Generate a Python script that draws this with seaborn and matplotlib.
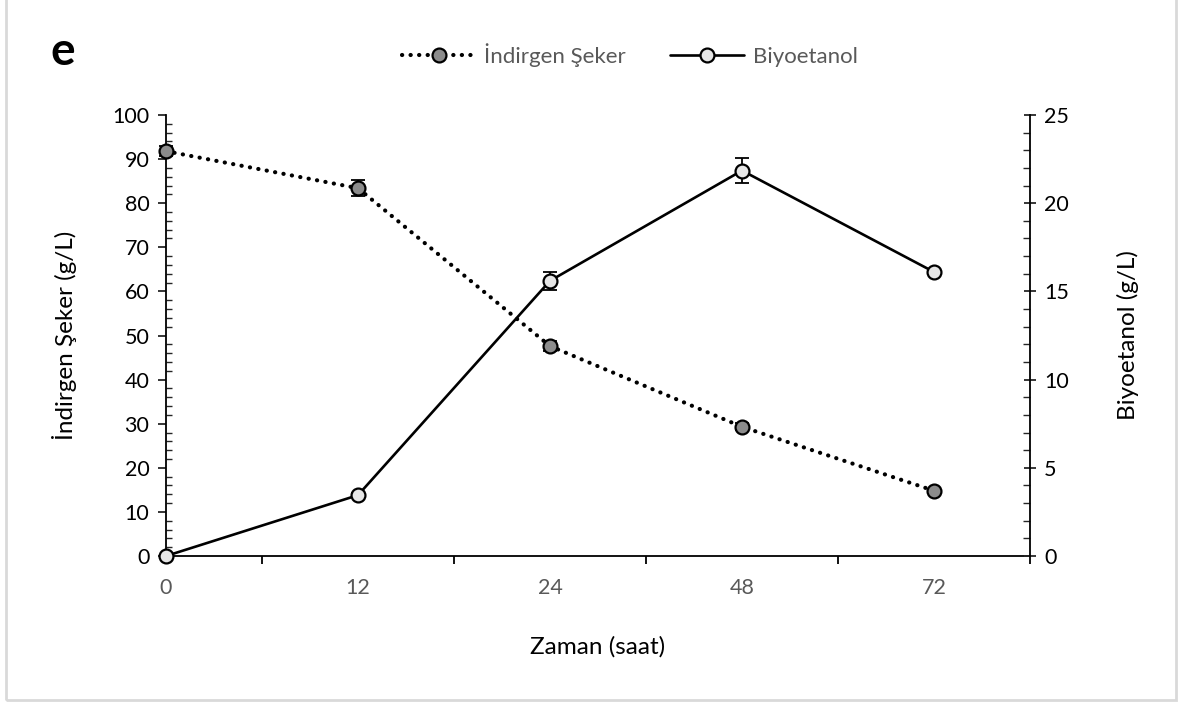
import numpy as np
import pandas as pd
import matplotlib
matplotlib.use("Agg")
import matplotlib.pyplot as plt
from matplotlib.patches import Rectangle
from matplotlib.ticker import MultipleLocator, FixedLocator, NullFormatter
import seaborn as sns

# Fermentation time points (hours)
times = ["0", "12", "24", "48", "72"]
# Reducing sugar (g/L) and its error
sugar = [91.8, 83.4, 47.6, 29.3, 14.8]
sugar_err = [1.2, 1.8, 1.2, 0.8, 0.4]
# Bioethanol (g/L) and its error
ethanol = [0.0, 3.45, 15.6, 21.85, 16.1]
ethanol_err = [0.05, 0.12, 0.5, 0.7, 0.1]

sns.set_theme(style="white")
plt.rcParams["font.family"] = ["Lato", "DejaVu Sans"]

df = pd.DataFrame({"pos": np.arange(len(times)), "sugar": sugar, "ethanol": ethanol})

fig = plt.figure(figsize=(11.95, 7.04), dpi=100)
ax = fig.add_axes([166 / 1195, 1 - 556 / 704, (1030 - 166) / 1195, (556 - 115) / 704])
ax2 = ax.twinx()

# Reducing sugar: dotted line with dark grey markers
ax.errorbar(df["pos"], df["sugar"], yerr=sugar_err, fmt="none", ecolor="black",
            elinewidth=1.3, capsize=5, capthick=1.3, zorder=2, clip_on=False)
sns.lineplot(data=df, x="pos", y="sugar", ax=ax, color="black", linewidth=3,
             linestyle=(0, (0.05, 2.0)), dash_capstyle="round", marker="o",
             markersize=10, markerfacecolor="#8c8c8c", markeredgecolor="black",
             markeredgewidth=1.6, zorder=3, label="İndirgen Şeker", clip_on=False)

# Bioethanol: solid line with light grey markers
ax2.errorbar(df["pos"], df["ethanol"], yerr=ethanol_err, fmt="none", ecolor="black",
             elinewidth=1.3, capsize=5, capthick=1.3, zorder=2, clip_on=False)
sns.lineplot(data=df, x="pos", y="ethanol", ax=ax2, color="black", linewidth=1.9,
             marker="o", markersize=10, markerfacecolor="#e6e6e6",
             markeredgecolor="black", markeredgewidth=1.6, zorder=3,
             label="Biyoetanol", clip_on=False)

for a in (ax, ax2):
    a.set_xlim(0, 4.5)
    a.grid(False)
    a.spines["top"].set_visible(False)
    for s in a.spines.values():
        s.set_color("black")
        s.set_linewidth(1.3)

ax.set_ylim(0, 100)
ax2.set_ylim(0, 25)
ax.spines["right"].set_visible(False)
ax2.spines["left"].set_visible(False)
ax2.spines["bottom"].set_visible(False)

# Category labels sit between the tick marks
ax.xaxis.set_major_locator(FixedLocator([0.5, 1.5, 2.5, 3.5, 4.5]))
ax.xaxis.set_major_formatter(NullFormatter())
ax.set_xticks(df["pos"].tolist(), minor=True)
ax.set_xticklabels(times, minor=True)
ax.tick_params(axis="x", which="major", direction="out", length=6, width=1.3,
               color="black", bottom=True)
ax.tick_params(axis="x", which="minor", length=0, labelsize=15.5, labelcolor="#595959",
               pad=16, bottom=True)

ax.yaxis.set_major_locator(MultipleLocator(10))
ax.yaxis.set_minor_locator(MultipleLocator(2))
ax.tick_params(axis="y", which="major", direction="out", length=6, width=1.3,
               labelsize=15.5, labelcolor="black", left=True, pad=6)
ax.tick_params(axis="y", which="minor", direction="in", length=4, width=1.0, left=True)

ax2.yaxis.set_major_locator(MultipleLocator(5))
ax2.yaxis.set_minor_locator(MultipleLocator(1))
ax2.tick_params(axis="y", which="major", direction="inout", length=8, width=1.3,
                labelsize=15.5, labelcolor="black", right=True, pad=6)
ax2.tick_params(axis="y", which="minor", direction="in", length=5, width=1.0, right=True)

ax.set_xlabel("Zaman (saat)", fontsize=17.5, color="black", labelpad=27)
ax.set_ylabel("İndirgen Şeker (g/L)", fontsize=17.5, color="black", labelpad=25)
ax2.set_ylabel("Biyoetanol (g/L)", fontsize=17.5, color="black", labelpad=35)

# Shared legend above the plot
h1, l1 = ax.get_legend_handles_labels()
h2, l2 = ax2.get_legend_handles_labels()
if ax.get_legend():
    ax.get_legend().remove()
if ax2.get_legend():
    ax2.get_legend().remove()
leg = fig.legend(h1 + h2, l1 + l2, loc="center", bbox_to_anchor=(0.527, 0.922),
                 ncol=2, frameon=False, fontsize=16, handlelength=3.3,
                 columnspacing=2.0, handletextpad=0.4)
for t in leg.get_texts():
    t.set_color("#595959")

fig.text(50 / 1195, 1 - 52 / 704, "e", fontsize=33, fontweight="bold",
         ha="left", va="center", color="black")

# Chart area border
fig.patches.append(Rectangle((6 / 1195, 4 / 704), (1176 - 6) / 1195, 1.2,
                             transform=fig.transFigure, fill=False,
                             edgecolor="#d9d9d9", linewidth=2, zorder=0))

fig.savefig("out.png", dpi=100, facecolor="white")
